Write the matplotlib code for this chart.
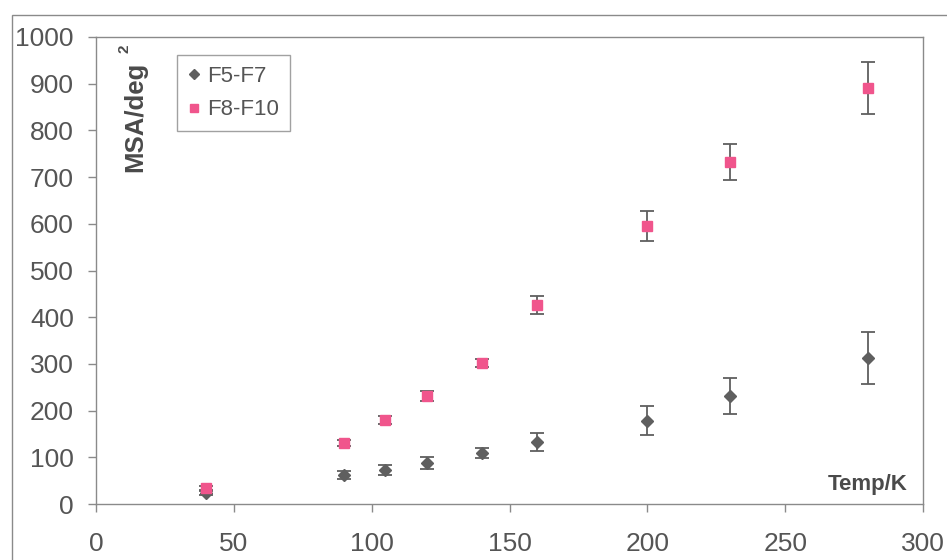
import numpy as np
import matplotlib.pyplot as plt
from matplotlib.patches import Rectangle

plt.rcParams['font.family'] = ['Liberation Sans', 'DejaVu Sans']

# temperature (K)
temp = [40, 90, 105, 120, 140, 160, 200, 230, 280]

# F5-F7 mean square amplitude and error
msa_f5 = [24, 62, 73, 88, 109, 133, 178, 231, 313]
err_f5 = [4, 9, 11, 12, 10, 19, 31, 39, 55]

# F8-F10
msa_f8 = [34, 131, 180, 231, 302, 426, 595, 732, 891]
err_f8 = [4, 7, 9, 11, 8, 19, 32, 39, 55]

gray = '#5f5f5f'
pink = '#f0558c'
txt = '#555555'

fig = plt.figure(figsize=(9.47, 5.6), dpi=100)
ax = fig.add_axes([96/947, 1-504/560, 827/947, 467/560])

# outer chart border
fig.patches.append(Rectangle((12/947, -0.1), 1.0, 1 - 15/560 + 0.1,
                             transform=fig.transFigure, fill=False,
                             edgecolor='#8a8a8a', linewidth=1.0))

ax.errorbar(temp, msa_f5, yerr=err_f5, fmt='D', color=gray, ms=6.5,
            ecolor=gray, elinewidth=1.3, capsize=5, capthick=1.3,
            label='F5-F7')
ax.errorbar(temp, msa_f8, yerr=err_f8, fmt='s', color=pink, ms=7,
            ecolor=gray, elinewidth=1.3, capsize=5, capthick=1.3,
            label='F8-F10', zorder=3)

ax.set_xlim(0, 300)
ax.set_ylim(0, 1000)
ax.set_xticks(np.arange(0, 301, 50))
ax.set_yticks(np.arange(0, 1001, 100))

for s in ax.spines.values():
    s.set_color('#8a8a8a')
    s.set_linewidth(1.0)
ax.tick_params(axis='both', colors='#8a8a8a', labelcolor=txt,
               labelsize=19, length=6, width=1.0)
ax.tick_params(axis='y', pad=10)
ax.tick_params(axis='x', pad=14)

ax.text(0.048, 0.83, 'MSA/deg', transform=ax.transAxes, rotation=90,
        ha='center', va='center', fontsize=18.5, fontweight='bold', color='#4a4a4a')
ax.text(0.035, 0.975, '2', transform=ax.transAxes, rotation=90,
        ha='center', va='center', fontsize=11, fontweight='bold', color='#4a4a4a')
ax.text(0.982, 0.03, 'Temp/K', transform=ax.transAxes, ha='right',
        va='baseline', fontsize=16, fontweight='bold', color='#4a4a4a')

handles, labels = ax.get_legend_handles_labels()
handles = [h[0] for h in handles]
leg = ax.legend(handles, labels, loc='upper left',
                bbox_to_anchor=((177-96)/827, (504-55)/467),
                borderaxespad=0, fancybox=False, frameon=True,
                fontsize=16, handlelength=0.5, handletextpad=0.35,
                markerscale=0.75, labelspacing=0.55, borderpad=0.5)
leg.get_frame().set_edgecolor('#8a8a8a')
leg.get_frame().set_linewidth(1.0)
for t in leg.get_texts():
    t.set_color(txt)

fig.savefig('out.png', dpi=100)
